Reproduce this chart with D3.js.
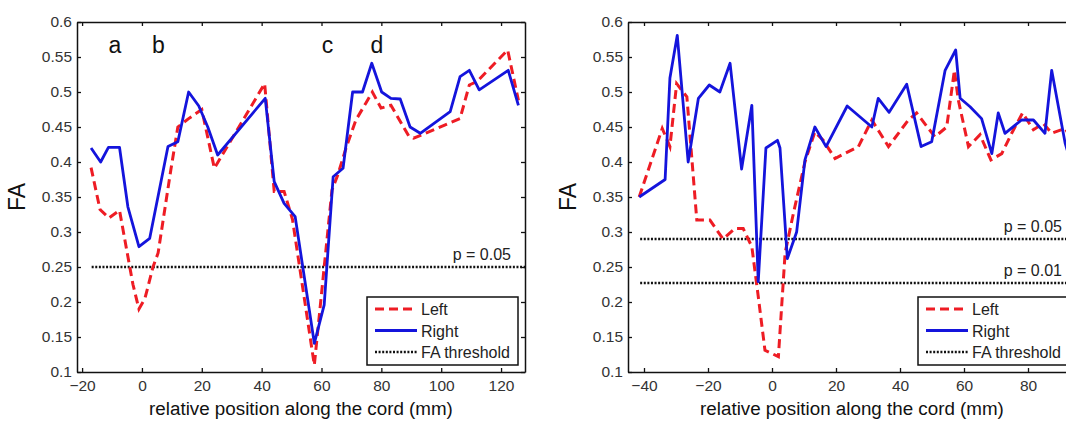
<!DOCTYPE html>
<html>
<head>
<meta charset="utf-8">
<script src="https://cdn.jsdelivr.net/npm/d3@7/dist/d3.min.js"></script>
<style>
  body { margin: 0; background: #fff; }
  svg { display: block; overflow: hidden; }
  text { font-family: Arial, "Liberation Sans", sans-serif; }
  .tick text { font-size: 15.5px; fill: #333; }
</style>
</head>
<body>
<div id="chart"></div>
<script>
const width = 1066;
const height = 426;

// panel A (left): FA along the cord
const aLeftPos = [-17, -14, -11, -7.5, -3, -1, 1, 3.7, 5.4, 9.7, 12, 15.6, 20, 24.2, 41, 44.2, 47.5, 50.3, 57.6, 63.5, 65.4, 68.2, 71.5, 74.8, 77, 79.9, 83.2, 89.3, 90.8, 106.3, 109.4, 112, 122.2, 125.8];
const aLeftFA = [0.392, 0.332, 0.32, 0.331, 0.225, 0.19, 0.205, 0.25, 0.27, 0.39, 0.45, 0.462, 0.475, 0.391, 0.512, 0.358, 0.358, 0.318, 0.11, 0.36, 0.381, 0.42, 0.46, 0.484, 0.5, 0.477, 0.481, 0.436, 0.434, 0.462, 0.51, 0.515, 0.56, 0.488];
const aRightPos = [-17, -13.8, -11.2, -7.5, -4.7, -1, 2.6, 8.7, 12, 15.6, 19, 22, 25.3, 41.2, 44.2, 47.5, 51.2, 57.6, 60.9, 63.9, 67.2, 70.4, 73.7, 76.8, 80.1, 83.2, 86.3, 89.6, 93, 103, 106.3, 109.4, 112.7, 122.4, 125.8];
const aRightFA = [0.42, 0.4, 0.421, 0.421, 0.336, 0.279, 0.291, 0.422, 0.429, 0.5, 0.48, 0.45, 0.41, 0.491, 0.372, 0.341, 0.322, 0.141, 0.196, 0.379, 0.391, 0.5, 0.5, 0.541, 0.5, 0.491, 0.49, 0.45, 0.441, 0.472, 0.522, 0.531, 0.503, 0.531, 0.481];
const aThresholds = [0.25];
const aThresholdLabels = ["p = 0.05"];
const aLetters = ["a", "b", "c", "d"];
const aLetterPos = [-9, 5.5, 62, 78.5];

// panel B (right)
const bLeftPos = [-41.5, -34.3, -31.9, -29.8, -26.6, -23.5, -19.4, -15.3, -11.6, -9, -6.3, -4.3, -2.2, 2, 4.1, 6.7, 10.3, 13.4, 16, 19.7, 27, 31.2, 36.4, 42.6, 45.2, 50.9, 54.6, 57, 58.2, 61.4, 65, 68.4, 71.8, 74.9, 78.3, 81.7, 84.8, 87.4, 91.6, 94];
const bLeftFA = [0.35, 0.448, 0.422, 0.512, 0.493, 0.317, 0.317, 0.29, 0.305, 0.305, 0.279, 0.208, 0.131, 0.122, 0.27, 0.327, 0.4, 0.443, 0.431, 0.405, 0.422, 0.46, 0.422, 0.46, 0.47, 0.436, 0.45, 0.531, 0.489, 0.422, 0.439, 0.403, 0.412, 0.441, 0.47, 0.446, 0.455, 0.441, 0.448, 0.43];
const bRightPos = [-41.5, -33.4, -31.9, -29.6, -26.2, -23, -19.6, -16.3, -13.1, -9.5, -6.3, -4.3, -1.9, 1.7, 2.5, 4.8, 7.7, 10.3, 13.4, 16.9, 23.5, 31.2, 33.2, 36.6, 42.1, 46.6, 49.9, 54.1, 57.4, 58.8, 61.9, 65.5, 68.7, 70.7, 72.8, 78, 81.7, 85.3, 87.4, 91.6, 94];
const bRightFA = [0.35, 0.375, 0.52, 0.581, 0.4, 0.491, 0.51, 0.5, 0.541, 0.39, 0.481, 0.229, 0.42, 0.431, 0.42, 0.262, 0.3, 0.403, 0.45, 0.422, 0.48, 0.45, 0.491, 0.471, 0.511, 0.422, 0.429, 0.531, 0.56, 0.491, 0.479, 0.462, 0.412, 0.47, 0.441, 0.46, 0.46, 0.441, 0.531, 0.427, 0.39];
const bThresholds = [0.29, 0.227];
const bThresholdLabels = ["p = 0.05", "p = 0.01"];

const yTicks = [0.1, 0.15, 0.2, 0.25, 0.3, 0.35, 0.4, 0.45, 0.5, 0.55, 0.6];
const aXTicks = [-20, 0, 20, 40, 60, 80, 100, 120];
const bXTicks = [-40, -20, 0, 20, 40, 60, 80];
const legendLabels = ["Left", "Right", "FA threshold"];

const red = "#ee1c24";
const blue = "#1414dc";

const svg = d3.select("#chart")
    .append("svg")
    .attr("width", width)
    .attr("height", height);

drawPanel({
    left: 77, top: 22, w: 448, h: 350,
    xDomain: [-21.7, 128], xTicks: aXTicks, thrStart: -16.8,
    leftPos: aLeftPos, leftFA: aLeftFA, rightPos: aRightPos, rightFA: aRightFA,
    thresholds: aThresholds, thrLabels: aThresholdLabels,
    letters: aLetters, letterPos: aLetterPos
});

drawPanel({
    left: 628, top: 22, w: 448, h: 350,
    xDomain: [-45, 95], xTicks: bXTicks, thrStart: -41.2,
    leftPos: bLeftPos, leftFA: bLeftFA, rightPos: bRightPos, rightFA: bRightFA,
    thresholds: bThresholds, thrLabels: bThresholdLabels,
    letters: [], letterPos: []
});

function drawPanel(p) {
    const g = svg.append("g").attr("transform", `translate(${p.left},${p.top})`);
    const x = d3.scaleLinear().domain(p.xDomain).range([0, p.w]);
    const y = d3.scaleLinear().domain([0.1, 0.6]).range([p.h, 0]);
    const fmt = d3.format("~g");

    const line = d3.line()
        .x(d => x(d[0]))
        .y(d => y(d[1]));

    // threshold lines
    p.thresholds.forEach((t, i) => {
        g.append("line")
            .attr("x1", x(p.thrStart)).attr("x2", p.w)
            .attr("y1", y(t)).attr("y2", y(t))
            .attr("stroke", "#111")
            .attr("stroke-width", 2.5)
            .attr("stroke-dasharray", "2,1.6");
        g.append("text")
            .attr("x", p.w - 14)
            .attr("y", y(t) - 7)
            .attr("text-anchor", "end")
            .style("font-size", "16px")
            .style("fill", "#222")
            .text(p.thrLabels[i]);
    });

    g.append("path")
        .datum(d3.zip(p.leftPos, p.leftFA))
        .attr("d", line)
        .attr("fill", "none")
        .attr("stroke", red)
        .attr("stroke-width", 3)
        .attr("stroke-dasharray", "9,5");

    g.append("path")
        .datum(d3.zip(p.rightPos, p.rightFA))
        .attr("d", line)
        .attr("fill", "none")
        .attr("stroke", blue)
        .attr("stroke-width", 2.8)
        .attr("stroke-linejoin", "round");

    // axes, ticks pointing inward on all four sides
    g.append("g")
        .attr("transform", `translate(0,${p.h})`)
        .call(d3.axisBottom(x).tickValues(p.xTicks).tickSize(-4).tickSizeOuter(0).tickPadding(8));
    g.append("g")
        .call(d3.axisTop(x).tickValues(p.xTicks).tickSize(-4).tickSizeOuter(0).tickFormat(""));
    g.append("g")
        .call(d3.axisLeft(y).tickValues(yTicks).tickSize(-4).tickSizeOuter(0).tickPadding(5).tickFormat(fmt));
    g.append("g")
        .attr("transform", `translate(${p.w},0)`)
        .call(d3.axisRight(y).tickValues(yTicks).tickSize(-4).tickSizeOuter(0).tickFormat(""));
    g.selectAll(".domain").attr("stroke", "#111").attr("stroke-width", 1.5);
    g.selectAll(".tick line").attr("stroke", "#111").attr("stroke-width", 1.3);

    // letters
    g.selectAll(".letter")
        .data(p.letters)
        .enter()
        .append("text")
        .attr("class", "letter")
        .attr("x", (d, i) => x(p.letterPos[i]))
        .attr("y", 31)
        .attr("text-anchor", "middle")
        .style("font-size", "23px")
        .style("fill", "#111")
        .text(d => d);

    // legend
    const lg = g.append("g").attr("transform", `translate(${p.w - 158},${275})`);
    lg.append("rect")
        .attr("width", 151).attr("height", 68)
        .attr("fill", "#fff").attr("stroke", "#111").attr("stroke-width", 1.5);
    const styles = [
        { c: red, d: "9,5", sw: 3 },
        { c: blue, d: null, sw: 3 },
        { c: "#111", d: "2,1.6", sw: 2.5 }
    ];
    legendLabels.forEach((lab, i) => {
        const ly = 12 + i * 21.5;
        lg.append("line")
            .attr("x1", 8).attr("x2", 50)
            .attr("y1", ly).attr("y2", ly)
            .attr("stroke", styles[i].c)
            .attr("stroke-width", styles[i].sw)
            .attr("stroke-dasharray", styles[i].d);
        lg.append("text")
            .attr("x", 54).attr("y", ly + 6)
            .style("font-size", "16px")
            .style("fill", "#222")
            .text(lab);
    });

    // axis titles
    g.append("text")
        .attr("x", p.w / 2)
        .attr("y", p.h + 43)
        .attr("text-anchor", "middle")
        .style("font-size", "18.8px")
        .style("fill", "#111")
        .text("relative position along the cord (mm)");
    g.append("text")
        .attr("transform", `translate(${-52},${p.h / 2}) rotate(-90)`)
        .attr("text-anchor", "middle")
        .style("font-size", "23px")
        .style("fill", "#111")
        .text("FA");
}
</script>
</body>
</html>
